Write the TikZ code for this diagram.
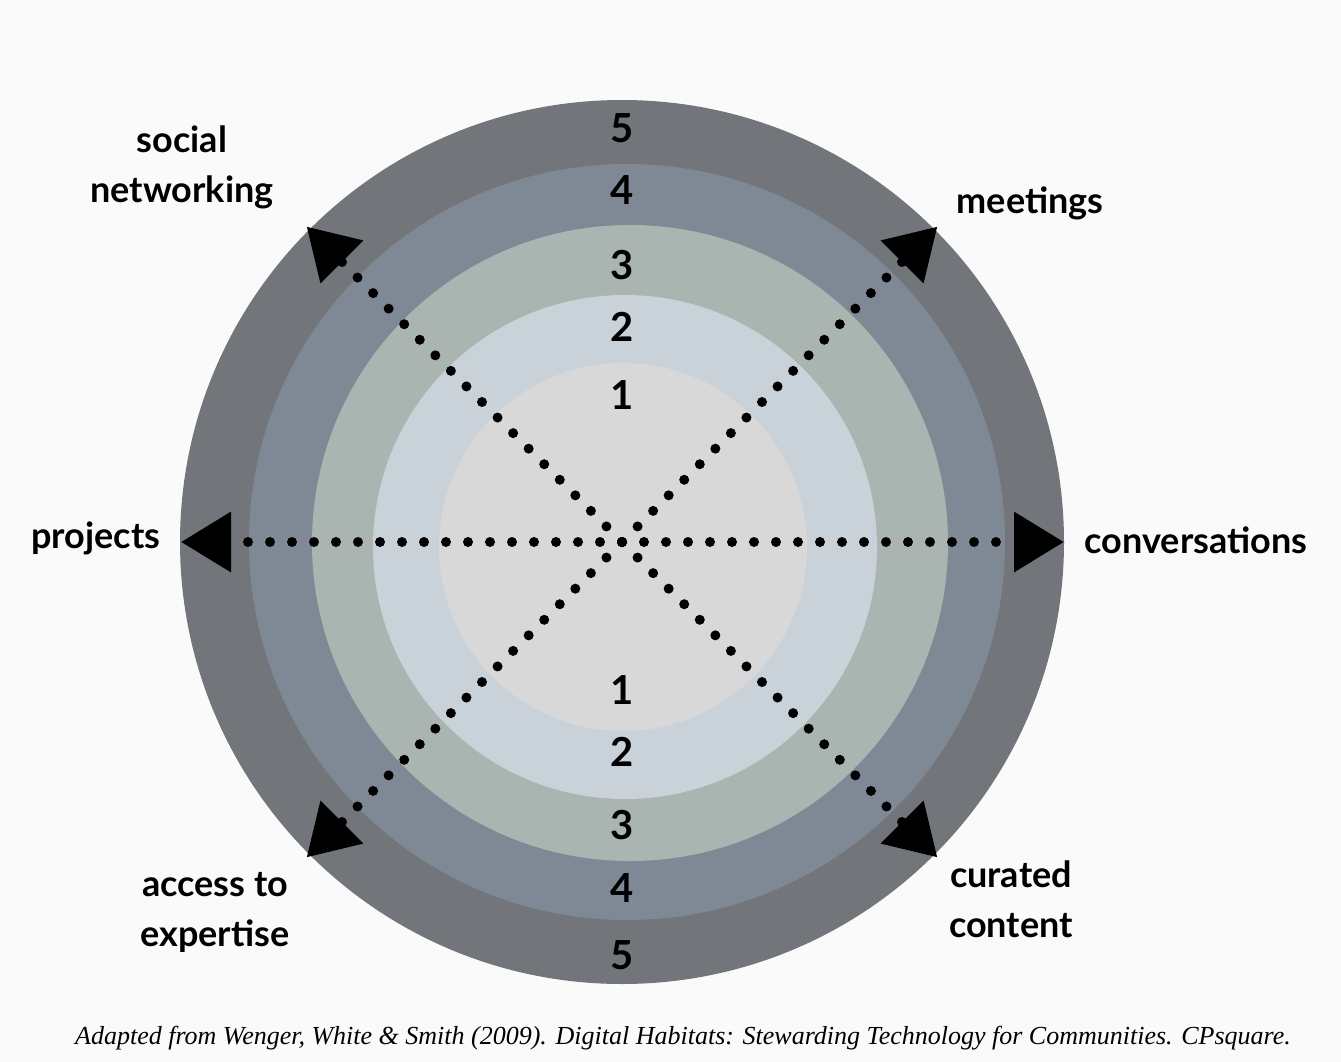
\documentclass[tikz,border=0pt]{standalone}
\usepackage{fontspec}
\setmainfont{Liberation Serif}
\newfontfamily\labelfont{Lato}
\usetikzlibrary{arrows.meta}
\def\ringfive{(622,542) circle (442pt)}
\def\ringfour{(627,542) circle (378pt)}
\def\ringthree{(630,543) circle (318pt)}
\def\ringtwo{(625,547) circle (252pt)}
\def\ringone{(623,547) circle (184pt)}
\definecolor{ring five}{RGB}{114,117,121}
\definecolor{ring four}{RGB}{127,137,149}
\definecolor{ring three}{RGB}{170,180,176}
\definecolor{ring two}{RGB}{201,209,217}
\definecolor{ring one}{RGB}{216,216,216}
\definecolor{paper}{RGB}{250,250,250}
\tikzset{
  ray/.style={line width=10pt, line cap=round, dash pattern=on 0pt off 22pt,
    -{Triangle[length=50pt, width=58pt]}},
  level/.style={font=\labelfont\bfseries\fontsize{40}{40}\selectfont, inner sep=0pt},
  habitat/.style={font=\labelfont\bfseries\fontsize{36}{50}\selectfont, align=center, inner sep=0pt}
}
\begin{document}
\begin{tikzpicture}[x=1pt, y=-1pt]
  \fill[paper] (0,0) rectangle (1341,1062);
  \useasboundingbox (0,0) rectangle (1341,1062);
  \fill[ring five] \ringfive;
  \fill[ring four] \ringfour;
  \fill[ring three] \ringthree;
  \fill[ring two] \ringtwo;
  \fill[ring one] \ringone;
  \foreach \n/\y in {5/128, 4/190, 3/265, 2/327, 1/395}
    \node[level] (top\n) at (622,\y) {\n};
  \foreach \n/\y in {1/690, 2/752, 3/825, 4/888, 5/955}
    \node[level] (bot\n) at (622,\y) {\n};
  \coordinate (hub) at (622,542);
  \coordinate (tproj) at (181,542);
  \coordinate (tconv) at (1064,542);
  \coordinate (tsoc) at (306.6,226.6);
  \coordinate (tmeet) at (937.4,226.6);
  \coordinate (tacc) at (306.6,857.4);
  \coordinate (tcur) at (937.4,857.4);
  \foreach \t in {tproj, tconv, tsoc, tmeet, tacc, tcur}
    \draw[ray] (hub) -- (\t);
  \node[habitat] (social) at (182,167) {social\\networking};
  \node[habitat] (meetings) at (1030,203) {meetings};
  \node[habitat] (projects) at (96,538) {projects};
  \node[habitat] (conversations) at (1196,540) {conversations};
  \node[habitat] (access) at (215,912) {access to\\expertise};
  \node[habitat] (curated) at (1011,899) {curated\\content};
  \node[font=\itshape\fontsize{26}{26}\selectfont] (source) at (683,1038)
    {Adapted from Wenger, White \& Smith (2009). Digital Habitats: Stewarding Technology for Communities. CPsquare.};
\end{tikzpicture}
\end{document}
